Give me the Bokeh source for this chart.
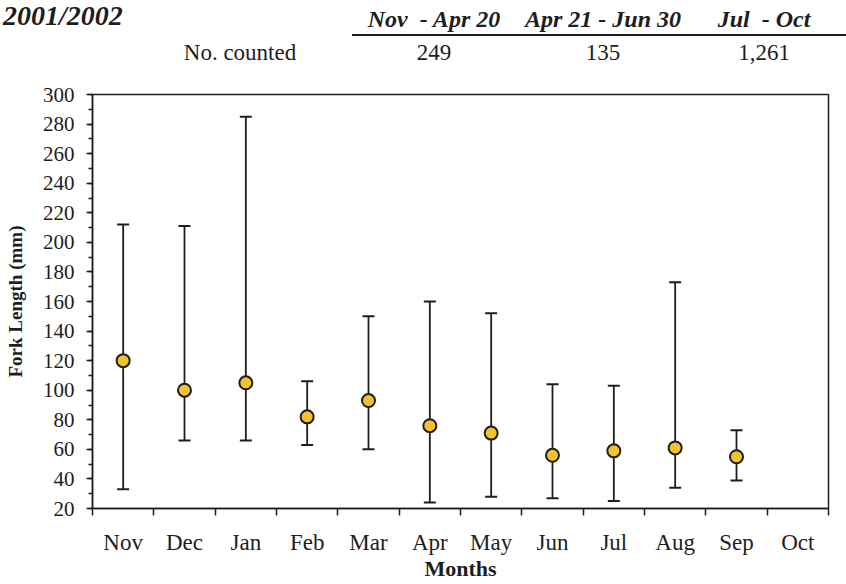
from bokeh.plotting import figure
from bokeh.models import Range1d, FixedTicker, SingleIntervalTicker, ColumnDataSource, Div
from bokeh.layouts import column
from bokeh.embed import file_html
from bokeh.resources import INLINE

# ---- data ----
months = ["Nov", "Dec", "Jan", "Feb", "Mar", "Apr", "May", "Jun", "Jul", "Aug", "Sep", "Oct"]
mean_fl = [120, 100, 105, 82, 93, 76, 71, 56, 59, 61, 55]
low_fl = [33, 66, 66, 63, 60, 24, 28, 27, 25, 34, 39]
high_fl = [212, 211, 285, 106, 150, 160, 152, 104, 103, 173, 73]

season_title = "2001/2002"
periods = ["Nov  - Apr 20", "Apr 21 - Jun 30", "Jul  - Oct"]
counts = ["249", "135", "1,261"]
count_label = "No. counted"

y_ticks_interval = 20

INK = "#1e1e1e"
W = 846
H = 584
HH = 80

# ---- header (HTML text) ----
period_cx = [434, 603, 764]
base = "position:absolute;white-space:pre;margin:0;padding:0;"
parts = [
    f'<span style="{base}left:3px;top:2px;font-size:28px;line-height:28px;'
    f'font-weight:bold;font-style:italic;">{season_title}</span>'
]
for cx, t in zip(period_cx, periods):
    parts.append(f'<span style="{base}left:{cx-100}px;top:7px;width:200px;text-align:center;'
                 f'font-size:24px;line-height:24px;font-weight:bold;font-style:italic;">{t}</span>')
parts.append(f'<div style="position:absolute;left:352px;top:34px;width:{W-352}px;height:0;'
             f'border-top:2.5px solid {INK};"></div>')
parts.append(f'<span style="{base}left:140px;top:41px;width:200px;text-align:center;'
             f'font-size:23px;line-height:23px;">{count_label}</span>')
for cx, t in zip(period_cx, counts):
    parts.append(f'<span style="{base}left:{cx-100}px;top:41px;width:200px;text-align:center;'
                 f'font-size:23px;line-height:23px;">{t}</span>')
html = (f'<div style="position:relative;width:{W}px;height:{HH}px;overflow:hidden;'
        f"font-family:'Liberation Serif',serif;color:{INK};background:white;\">"
        + "".join(parts) + "</div>")
hdr = Div(text=html, width=W, height=HH, margin=0)

# ---- main chart ----
n = len(mean_fl)
xs = list(range(n))
src = ColumnDataSource(dict(x=xs, m=mean_fl, lo=low_fl, hi=high_fl))

p = figure(width=W, height=H - HH, x_range=Range1d(-0.5, len(months) - 0.5),
           y_range=Range1d(20, 300), toolbar_location=None, output_backend="svg",
           min_border_left=92, min_border_right=18, min_border_top=14, min_border_bottom=76)
p.grid.visible = False
p.outline_line_color = INK
p.outline_line_width = 1.5
p.background_fill_color = "white"
p.border_fill_color = "white"

p.segment(x0="x", y0="lo", x1="x", y1="hi", source=src, line_color=INK, line_width=1.8)
p.scatter(x="x", y="lo", source=src, marker="dash", size=12, line_color=INK, line_width=2)
p.scatter(x="x", y="hi", source=src, marker="dash", size=12, line_color=INK, line_width=2)
p.scatter(x="x", y="m", source=src, marker="circle", size=13, fill_color="#F4C22E",
          line_color=INK, line_width=2)

# x axis: labels at category centres, ticks at category boundaries
xa = p.xaxis[0]
xa.ticker = FixedTicker(ticks=list(range(len(months))),
                        minor_ticks=[i - 0.5 for i in range(len(months) + 1)])
xa.major_label_overrides = {i: m for i, m in enumerate(months)}
xa.major_tick_out = 0
xa.major_tick_in = 0
xa.major_tick_line_color = None
xa.minor_tick_out = 7
xa.minor_tick_in = 0
xa.minor_tick_line_color = INK
xa.minor_tick_line_width = 1.5
xa.axis_line_color = INK
xa.axis_line_width = 1.5
xa.major_label_standoff = 14
xa.major_label_text_font = "Liberation Serif"
xa.major_label_text_font_size = "23px"
xa.major_label_text_color = INK
xa.axis_label = "Months"
xa.axis_label_text_font = "Liberation Serif"
xa.axis_label_text_font_style = "bold"
xa.axis_label_text_font_size = "22px"
xa.axis_label_text_color = INK
xa.axis_label_standoff = -2

ya = p.yaxis[0]
ya.ticker = SingleIntervalTicker(interval=y_ticks_interval, num_minor_ticks=2)
ya.major_tick_out = 6
ya.major_tick_in = 0
ya.minor_tick_out = 4
ya.minor_tick_in = 0
ya.major_tick_line_color = INK
ya.minor_tick_line_color = INK
ya.major_tick_line_width = 1.5
ya.minor_tick_line_width = 1.5
ya.axis_line_color = INK
ya.axis_line_width = 1.5
ya.major_label_standoff = 12
ya.major_label_text_font = "Liberation Serif"
ya.major_label_text_font_size = "21px"
ya.major_label_text_color = INK
ya.axis_label = "Fork Length (mm)"
ya.axis_label_text_font = "Liberation Serif"
ya.axis_label_text_font_style = "bold"
ya.axis_label_text_font_size = "19px"
ya.axis_label_text_color = INK
ya.axis_label_standoff = 14

layout = column(hdr, p, spacing=0)
open("out.html", "w").write(file_html(layout, INLINE))
